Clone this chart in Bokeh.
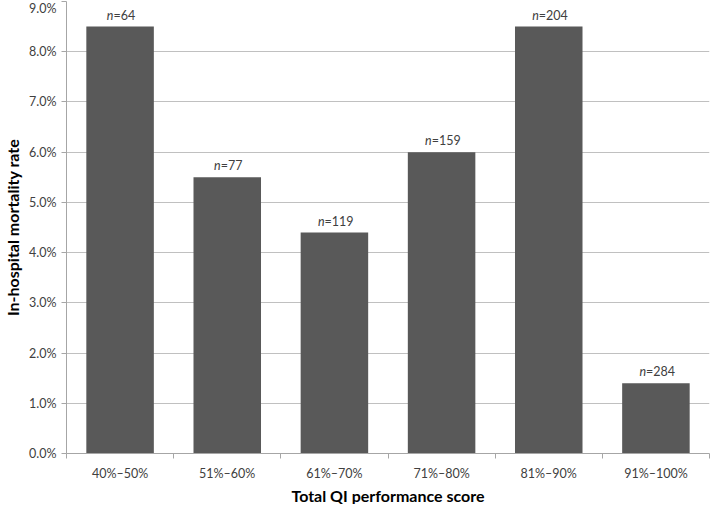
from bokeh.plotting import figure
from bokeh.models import ColumnDataSource, FixedTicker, NumeralTickFormatter, Range1d, Title
from bokeh.core.properties import value
from bokeh.embed import file_html
from bokeh.resources import INLINE

categories = ["40%\u201350%", "51%\u201360%", "61%\u201370%", "71%\u201380%", "81%\u201390%", "91%\u2013100%"]
mortality = [0.085, 0.055, 0.044, 0.060, 0.085, 0.014]
n_counts = [64, 77, 119, 159, 204, 284]
y_ticks = [0.0, 0.01, 0.02, 0.03, 0.04, 0.05, 0.06, 0.07, 0.08, 0.09]
x_title = "Total QI performance score"
y_title = "In-hospital mortality rate"

FONT = "Lato"
xs = [i + 0.5 for i in range(len(categories))]
rest = ["=" + str(n) for n in n_counts]
char_w = 6.6
total_w = [char_w * (len(r) + 1) for r in rest]
src = ColumnDataSource(dict(
    x=xs, top=mortality, rest=rest, n=["n"] * len(xs),
    n_off=[-tw / 2 + char_w for tw in total_w],
    r_off=[-tw / 2 + char_w for tw in total_w],
))

p = figure(width=716, height=504, output_backend="svg", toolbar_location=None,
           x_range=Range1d(0, len(categories)), y_range=Range1d(0, 0.09),
           min_border_left=59, min_border_right=7, min_border_top=1, min_border_bottom=0)
p.outline_line_color = None
p.background_fill_color = "white"

p.vbar(x="x", top="top", width=0.63, source=src, fill_color="#595959", line_color=None)

p.text(x="x", y="top", text="n", x_offset="n_off", y_offset=-4, source=src,
       text_align="right", text_baseline="bottom", text_font=value(FONT),
       text_font_style="italic", text_font_size="12.5px", text_color="#404040")
p.text(x="x", y="top", text="rest", x_offset="r_off", y_offset=-4, source=src,
       text_align="left", text_baseline="bottom", text_font=value(FONT),
       text_font_size="12.5px", text_color="#404040")

# x axis
p.xaxis.ticker = FixedTicker(ticks=xs, minor_ticks=list(range(len(categories) + 1)))
p.xaxis.major_label_overrides = {x: c for x, c in zip(xs, categories)}
p.xaxis.major_tick_line_color = None
p.xaxis.major_tick_out = 5
p.xaxis.major_tick_in = 0
p.xaxis.minor_tick_line_color = "#a6a6a6"
p.xaxis.minor_tick_out = 5
p.xaxis.minor_tick_in = 0
p.xaxis.axis_line_color = "#a6a6a6"
p.xaxis.major_label_text_font = FONT
p.xaxis.major_label_text_font_size = "12.5px"
p.xaxis.major_label_text_color = "#404040"
p.xaxis.major_label_standoff = 7

p.add_layout(Title(text=x_title, align="center", text_font=FONT, text_font_style="bold",
                   text_font_size="16px", text_color="#000000", standoff=0, offset=0), "below")

# y axis
p.yaxis.ticker = FixedTicker(ticks=y_ticks)
p.yaxis.formatter = NumeralTickFormatter(format="0.0%")
p.yaxis.major_tick_line_color = "#a6a6a6"
p.yaxis.major_tick_out = 5
p.yaxis.major_tick_in = 0
p.yaxis.minor_tick_line_color = None
p.yaxis.axis_line_color = "#a6a6a6"
p.yaxis.major_label_text_font = FONT
p.yaxis.major_label_text_font_size = "12.5px"
p.yaxis.major_label_text_color = "#404040"
p.yaxis.major_label_standoff = 5
p.yaxis.axis_label = y_title
p.yaxis.axis_label_text_font = FONT
p.yaxis.axis_label_text_font_style = "bold"
p.yaxis.axis_label_text_font_size = "16px"
p.yaxis.axis_label_text_color = "#000000"
p.yaxis.axis_label_standoff = 4

p.xgrid.grid_line_color = None
p.ygrid.grid_line_color = "#c0c0c0"
p.ygrid.ticker = FixedTicker(ticks=y_ticks)

open("out.html", "w").write(file_html(p, INLINE))
